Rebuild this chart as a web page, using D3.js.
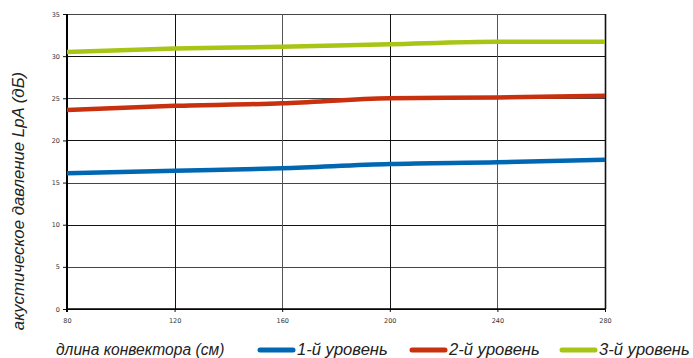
<!DOCTYPE html>
<html>
<head>
<meta charset="utf-8">
<script src="https://cdn.jsdelivr.net/npm/d3@7"></script>
<style>
  body { margin: 0; background: #fff; }
  svg { display: block; }
</style>
</head>
<body>
<div id="chart"></div>
<script>
const lengths = [80, 120, 160, 200, 240, 280];
const level1 = [16.1, 16.4, 16.7, 17.2, 17.4, 17.7];
const level2 = [23.6, 24.1, 24.4, 25.0, 25.1, 25.3];
const level3 = [30.5, 30.9, 31.1, 31.4, 31.7, 31.7];
const seriesNames = ["1-й уровень", "2-й уровень", "3-й уровень"];
const yTicks = [0, 5, 10, 15, 20, 25, 30, 35];

const colors = ["#0068b3", "#c8300e", "#a6c514"];
const allSeries = [level1, level2, level3];

const width = 693, height = 358;
const margin = { top: 14, right: 88, bottom: 49, left: 67 };
const innerW = width - margin.left - margin.right,
    innerH = height - margin.top - margin.bottom;

const svg = d3.select("#chart")
    .append("svg")
    .attr("width", width)
    .attr("height", height);

const g = svg.append("g")
    .attr("transform", `translate(${margin.left},${margin.top})`);

const x = d3.scaleLinear().domain([80, 280]).range([0, innerW]);
const y = d3.scaleLinear().domain([0, 35]).range([innerH, 0]);

// grid lines
g.append("g")
    .selectAll("line")
    .data(yTicks)
    .enter()
    .append("line")
    .attr("x1", 0)
    .attr("x2", innerW)
    .attr("y1", d => Math.round(y(d)) + 0.5)
    .attr("y2", d => Math.round(y(d)) + 0.5)
    .attr("stroke", (d, i) => i % 2 ? "#444" : "#111")
    .attr("stroke-width", 1);

g.append("g")
    .selectAll("line")
    .data(lengths)
    .enter()
    .append("line")
    .attr("x1", d => Math.round(x(d)) + 0.5)
    .attr("x2", d => Math.round(x(d)) + 0.5)
    .attr("y1", 0)
    .attr("y2", innerH)
    .attr("stroke", (d, i) => i % 2 ? "#111" : "#555")
    .attr("stroke-width", d => d === 280 ? 1.6 : 1);

// axes
const yAxis = g.append("g")
    .call(d3.axisLeft(y).tickValues(yTicks).tickSize(4).tickPadding(3));
const xAxis = g.append("g")
    .attr("transform", `translate(0,${innerH})`)
    .call(d3.axisBottom(x).tickValues(lengths).tickSize(3).tickPadding(6));

[yAxis, xAxis].forEach(a => {
    a.select(".domain").remove();
    a.selectAll("line").attr("stroke", "#111");
    a.selectAll("text")
        .style("font-family", "'DejaVu Sans', sans-serif")
        .style("font-size", "6.5px")
        .attr("fill", "#333");
});

// left axis line and bottom line
g.append("line")
    .attr("x1", 0).attr("x2", 0)
    .attr("y1", 0).attr("y2", innerH + 3)
    .attr("stroke", "#000").attr("stroke-width", 2);
g.append("line")
    .attr("x1", 0).attr("x2", innerW)
    .attr("y1", innerH).attr("y2", innerH)
    .attr("stroke", "#000").attr("stroke-width", 1.5);

// lines
const line = d3.line()
    .x((d, i) => x(lengths[i]))
    .y(d => y(d))
    .curve(d3.curveMonotoneX);

g.selectAll(".series")
    .data(allSeries)
    .enter()
    .append("path")
    .attr("class", "series")
    .attr("d", d => line(d))
    .attr("fill", "none")
    .attr("stroke", (d, i) => colors[i])
    .attr("stroke-width", 4.5);

// axis titles
svg.append("text")
    .attr("transform", "translate(24,201) rotate(-90)")
    .attr("text-anchor", "middle")
    .style("font-family", "'Liberation Sans', Arial, sans-serif")
    .style("font-style", "italic")
    .style("font-size", "16.8px")
    .attr("fill", "#222")
    .text("акустическое давление LpA (дБ)");

svg.append("text")
    .attr("x", 56)
    .attr("y", 355)
    .style("font-family", "'Liberation Sans', Arial, sans-serif")
    .style("font-style", "italic")
    .style("font-size", "15.6px")
    .attr("fill", "#222")
    .text("длина конвектора (см)");

// legend
const legendX = [258, 410, 560];
const legend = svg.selectAll(".legend")
    .data(seriesNames)
    .enter()
    .append("g")
    .attr("class", "legend")
    .attr("transform", (d, i) => `translate(${legendX[i]},350)`);

legend.append("line")
    .attr("x1", 2).attr("x2", 35)
    .attr("y1", 0).attr("y2", 0)
    .attr("stroke", (d, i) => colors[i])
    .attr("stroke-width", 5)
    .attr("stroke-linecap", "round");

legend.append("text")
    .attr("x", 39)
    .attr("y", 5)
    .style("font-family", "'Liberation Sans', Arial, sans-serif")
    .style("font-style", "italic")
    .style("font-size", "16.6px")
    .attr("fill", "#222")
    .text(d => d);
</script>
</body>
</html>
